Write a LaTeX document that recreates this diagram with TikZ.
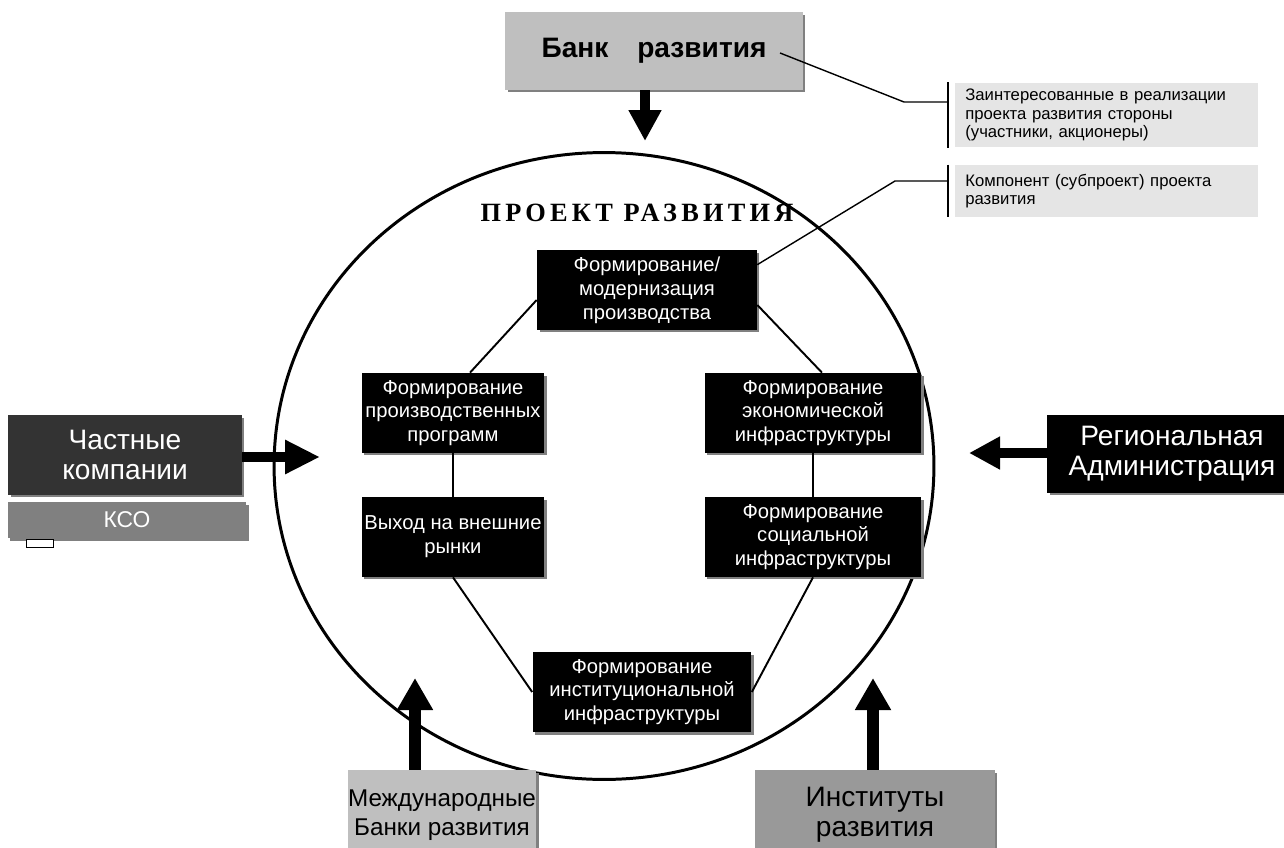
\documentclass[tikz,border=0pt]{standalone}
\usepackage{fontspec}
\setmainfont{Liberation Sans}
\newfontfamily\projfont[LetterSpace=16]{Liberation Serif}
\usetikzlibrary{arrows.meta,shadows}

\tikzset{
  comp/.style={fill=black, text=white, align=center, inner sep=0pt,
    minimum width=4.4cm, minimum height=1.6cm,
    font=\fontsize{11.5}{13.6}\selectfont,
    general shadow={fill=gray, shadow xshift=0.05cm, shadow yshift=-0.05cm}},
  side/.style={align=center, inner sep=0pt, minimum height=1.6cm,
    font=\fontsize{16}{17}\selectfont,
    general shadow={fill=gray, shadow xshift=0.05cm, shadow yshift=-0.05cm}},
  note/.style={fill=black!10, anchor=west, align=left, inner xsep=0.2cm,
    text width=5.66cm, font=\fontsize{9.5}{10.3}\selectfont},
  link/.style={line width=1.1pt},
  callline/.style={line width=0.8pt},
  blockarrow/.style={line width=0.2cm, -{Triangle[length=0.62cm,width=0.62cm]}}
}

\begin{document}
\begin{tikzpicture}[x=0.02cm, y=-0.02cm]
\useasboundingbox (0,0) rectangle (1284,848);
\clip (0,0) rectangle (1284,848);
\fill[white] (0,0) rectangle (1284,848);

% project circle
\draw[line width=1.7pt] (604,466) ellipse [x radius=6.6cm, y radius=6.27cm];
\node[font=\projfont\bfseries\fontsize{15}{15}\selectfont] (proj) at (637,213) {ПРОЕКТ РАЗВИТИЯ};

% components
\node[comp] (fm) at (647,290) {Формирование/\\модернизация\\производства};
\node[comp, minimum width=3.66cm] (pp) at (453,413) {Формирование\\производственных\\программ};
\node[comp, minimum width=4.34cm] (ek) at (813,413) {Формирование\\экономической\\инфраструктуры};
\node[comp, minimum width=3.66cm] (vr) at (453,537) {Выход на внешние\\рынки};
\node[comp, minimum width=4.34cm] (sc) at (813,537) {Формирование\\социальной\\инфраструктуры};
\node[comp, minimum width=4.38cm] (inst) at (642,692) {Формирование\\институциональной\\инфраструктуры};

\draw[link] ([yshift=-0.2cm]fm.west) -- ([xshift=0.34cm]pp.north);
\draw[link] ([yshift=-0.3cm]fm.east) -- ([xshift=0.18cm]ek.north);
\draw[link] (pp) -- (vr);
\draw[link] (ek) -- (sc);
\draw[link] (vr.south) -- (inst.west);
\draw[link] (sc.south) -- (inst.east);

% stakeholders
\node[side, fill=black!25, minimum width=5.96cm, minimum height=1.56cm,
  font=\bfseries\fontsize{16}{17}\selectfont] (bank) at (654,51) {Банк\hspace{12pt} развития};
\node[side, fill=black!80, text=white, minimum width=4.68cm] (chast) at (125,455) {Частные\\компании};
\node[side, fill=black!50, text=white, minimum width=4.78cm, minimum height=0.72cm,
  font=\fontsize{13}{14}\selectfont] (kso) at (127,520) {КСО};
\draw[fill=white] (26,539) rectangle (53,547);
\node[side, fill=black, text=white, minimum width=5cm, minimum height=1.56cm] (reg) at (1172,454) {Региональная\\Администрация};
\node[side, fill=black!25, minimum width=3.78cm, minimum height=1.8cm,
  font=\fontsize{13.8}{16.5}\selectfont] (mbr) at (442,815) {Международные\\Банки развития};
\node[side, fill=black!40, minimum width=4.8cm, minimum height=1.8cm] (ird) at (875,815) {Институты\\развития};

% block arrows
\coordinate (tipB) at (645,141);
\coordinate (tipC) at (320,457);
\coordinate (tipR) at (969,453);
\coordinate (tipM) at (415,678);
\coordinate (tipI) at (873,678);
\draw[blockarrow] (bank.south -| tipB) -- (tipB);
\draw[blockarrow, -{Triangle[length=0.7cm,width=0.64cm]}] (chast.east |- tipC) -- (tipC);
\draw[blockarrow] (reg.west |- tipR) -- (tipR);
\draw[blockarrow, line width=0.24cm, -{Triangle[length=0.64cm,width=0.68cm]}] (mbr.north -| tipM) -- (tipM);
\draw[blockarrow, line width=0.24cm, -{Triangle[length=0.64cm,width=0.68cm]}] (ird.north -| tipI) -- (tipI);

% legend
\node[note, minimum height=1.3cm] (n1) at (955,115) {Заинтересованные в реализации\\проекта развития стороны\\(участники, акционеры)};
\node[note, minimum height=1.04cm] (n2) at (955,191) {Компонент (субпроект) проекта\\развития};
\draw[callline] ([xshift=-0.14cm]n1.north west) -- ([xshift=-0.14cm]n1.south west);
\draw[callline] ([xshift=-0.14cm]n2.north west) -- ([xshift=-0.14cm]n2.south west);
\coordinate (bkend) at (780,53);
\draw[callline] (bkend) -- (904,102) -- ([xshift=-0.14cm]n1.west |- 0,102);
\draw[callline] ([yshift=-0.3cm]fm.north east) -- (895,181) -- ([xshift=-0.14cm]n2.west |- 0,181);
\end{tikzpicture}
\end{document}
